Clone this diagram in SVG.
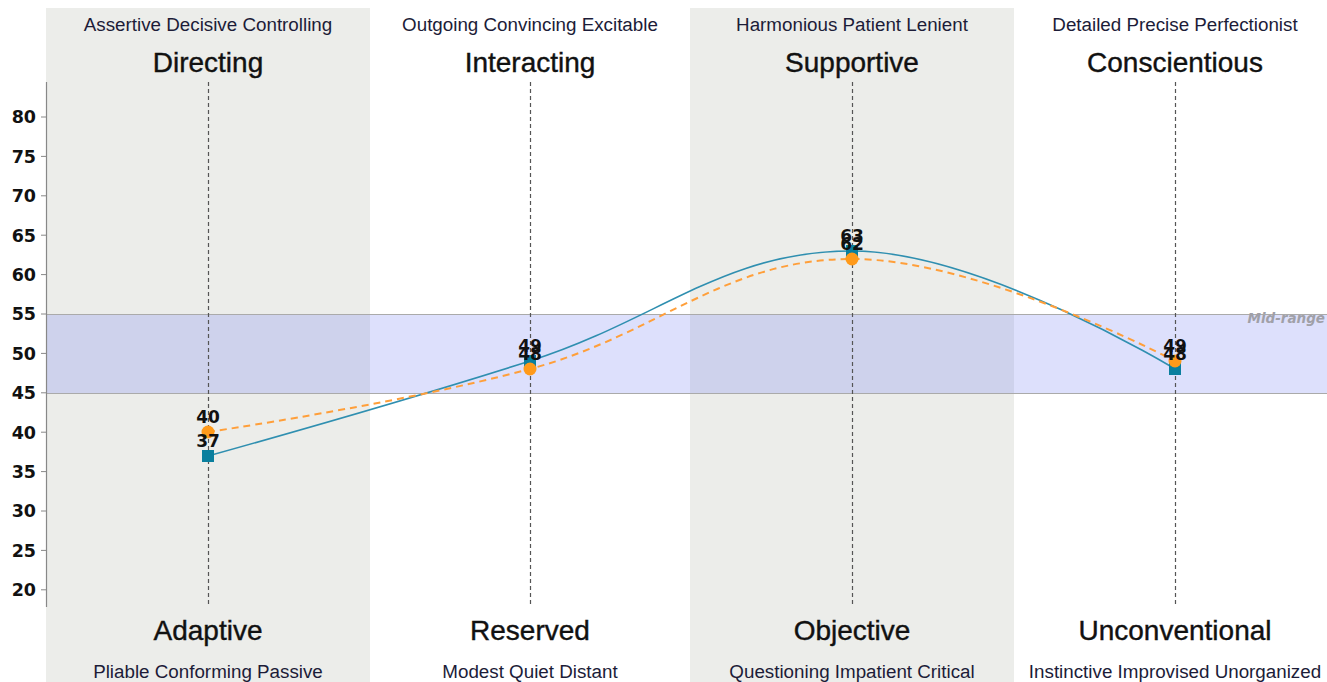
<svg xmlns="http://www.w3.org/2000/svg" width="1327" height="682" viewBox="0 0 1327 682">
<style>
.sub{font-family:"Liberation Sans",Arial,sans-serif;font-size:18.8px;fill:#1c1c38;text-anchor:middle}
.ttl{font-family:"Liberation Sans",Arial,sans-serif;font-size:28px;fill:#111;stroke:#111;stroke-width:0.4;text-anchor:middle}
.ax{font-family:"DejaVu Sans",sans-serif;font-weight:bold;font-size:17.5px;fill:#111;text-anchor:end}
.dl{font-family:"DejaVu Sans",sans-serif;font-weight:bold;font-size:17px;fill:#111;text-anchor:middle}
.vd{stroke:#555;stroke-width:1.2;stroke-dasharray:4,3;fill:none}
.band{fill:#ecedea}
.tk{stroke:#888;stroke-width:1}
</style>
<rect width="1327" height="682" fill="#ffffff"/>
<g id="bands">
<rect class="band" x="46" y="8" width="324" height="674"/>
<rect class="band" x="690" y="8" width="324" height="674"/>
</g>
<g id="midrange">
<rect x="46" y="314" width="1281" height="79" fill="#6a78f0" fill-opacity="0.23"/>
<line x1="46" y1="314.5" x2="1327" y2="314.5" stroke="#aaa" stroke-width="1"/>
<line x1="46" y1="393.5" x2="1327" y2="393.5" stroke="#aaa" stroke-width="1"/>
<text x="1325" y="323" font-family="DejaVu Sans,sans-serif" font-weight="bold" font-style="italic" font-size="13.5px" fill="#a0a0a8" text-anchor="end">Mid-range</text>
</g>
<g id="axis">
<line x1="46.5" y1="82" x2="46.5" y2="607" stroke="#888" stroke-width="1.2"/>
<g class="tk">
<line x1="41" y1="117" x2="46" y2="117"/><line x1="41" y1="156.4" x2="46" y2="156.4"/>
<line x1="41" y1="195.8" x2="46" y2="195.8"/><line x1="41" y1="235.2" x2="46" y2="235.2"/>
<line x1="41" y1="274.6" x2="46" y2="274.6"/><line x1="41" y1="314" x2="46" y2="314"/>
<line x1="41" y1="353.4" x2="46" y2="353.4"/><line x1="41" y1="392.8" x2="46" y2="392.8"/>
<line x1="41" y1="432.2" x2="46" y2="432.2"/><line x1="41" y1="471.6" x2="46" y2="471.6"/>
<line x1="41" y1="511" x2="46" y2="511"/><line x1="41" y1="550.4" x2="46" y2="550.4"/>
<line x1="41" y1="589.8" x2="46" y2="589.8"/>
</g>
<text class="ax" x="36" y="123.3">80</text>
<text class="ax" x="36" y="162.7">75</text>
<text class="ax" x="36" y="202.1">70</text>
<text class="ax" x="36" y="241.5">65</text>
<text class="ax" x="36" y="280.9">60</text>
<text class="ax" x="36" y="320.3">55</text>
<text class="ax" x="36" y="359.7">50</text>
<text class="ax" x="36" y="399.1">45</text>
<text class="ax" x="36" y="438.5">40</text>
<text class="ax" x="36" y="477.9">35</text>
<text class="ax" x="36" y="517.3">30</text>
<text class="ax" x="36" y="556.7">25</text>
<text class="ax" x="36" y="596.1">20</text>
</g>
<g id="col-directing">
<text class="sub" x="208" y="31">Assertive Decisive Controlling</text>
<text class="ttl" x="208" y="72">Directing</text>
<line class="vd" x1="208.5" y1="82" x2="208.5" y2="607"/>
<text class="ttl" x="208" y="640">Adaptive</text>
<text class="sub" x="208" y="678">Pliable Conforming Passive</text>
</g>
<g id="col-interacting">
<text class="sub" x="530" y="31">Outgoing Convincing Excitable</text>
<text class="ttl" x="530" y="72">Interacting</text>
<line class="vd" x1="530.5" y1="82" x2="530.5" y2="607"/>
<text class="ttl" x="530" y="640">Reserved</text>
<text class="sub" x="530" y="678">Modest Quiet Distant</text>
</g>
<g id="col-supportive">
<text class="sub" x="852" y="31">Harmonious Patient Lenient</text>
<text class="ttl" x="852" y="72">Supportive</text>
<line class="vd" x1="852.5" y1="82" x2="852.5" y2="607"/>
<text class="ttl" x="852" y="640">Objective</text>
<text class="sub" x="852" y="678">Questioning Impatient Critical</text>
</g>
<g id="col-conscientious">
<text class="sub" x="1175" y="31">Detailed Precise Perfectionist</text>
<text class="ttl" x="1175" y="72">Conscientious</text>
<line class="vd" x1="1175.5" y1="82" x2="1175.5" y2="607"/>
<text class="ttl" x="1175" y="640">Unconventional</text>
<text class="sub" x="1175" y="678">Instinctive Improvised Unorganized</text>
</g>
<g id="connectors">
<path d="M208,456 C208,456 401.2,402 530,361 C658.8,320 723.2,251 852,251 C981.2,251 1175,369 1175,369" fill="none" stroke="#2f8fb0" stroke-width="1.6"/>
<path d="M208,432 C208,432 401.2,403.6 530,369 C658.8,334.4 723.2,259 852,259 C981.2,259 1175,361 1175,361" fill="none" stroke="#ff9f3a" stroke-width="2" stroke-dasharray="7,5"/>
</g>
<g id="series-teal" fill="#0a7f9e">
<rect x="202" y="450" width="12" height="12"/>
<rect x="524" y="355" width="12" height="12"/>
<rect x="846" y="245" width="12" height="12"/>
<rect x="1169" y="363" width="12" height="12"/>
</g>
<g id="series-orange" fill="#ff9a1a">
<circle cx="208" cy="432" r="6.5"/>
<circle cx="530" cy="369" r="6.5"/>
<circle cx="852" cy="259" r="6.5"/>
<circle cx="1175" cy="361" r="6.5"/>
</g>
<g id="labels">
<text class="dl" x="208" y="447">37</text>
<text class="dl" x="530" y="352">49</text>
<text class="dl" x="852" y="242">63</text>
<text class="dl" x="1175" y="360">48</text>
<text class="dl" x="208" y="423">40</text>
<text class="dl" x="530" y="360">48</text>
<text class="dl" x="852" y="250">62</text>
<text class="dl" x="1175" y="352">49</text>
</g>
</svg>
